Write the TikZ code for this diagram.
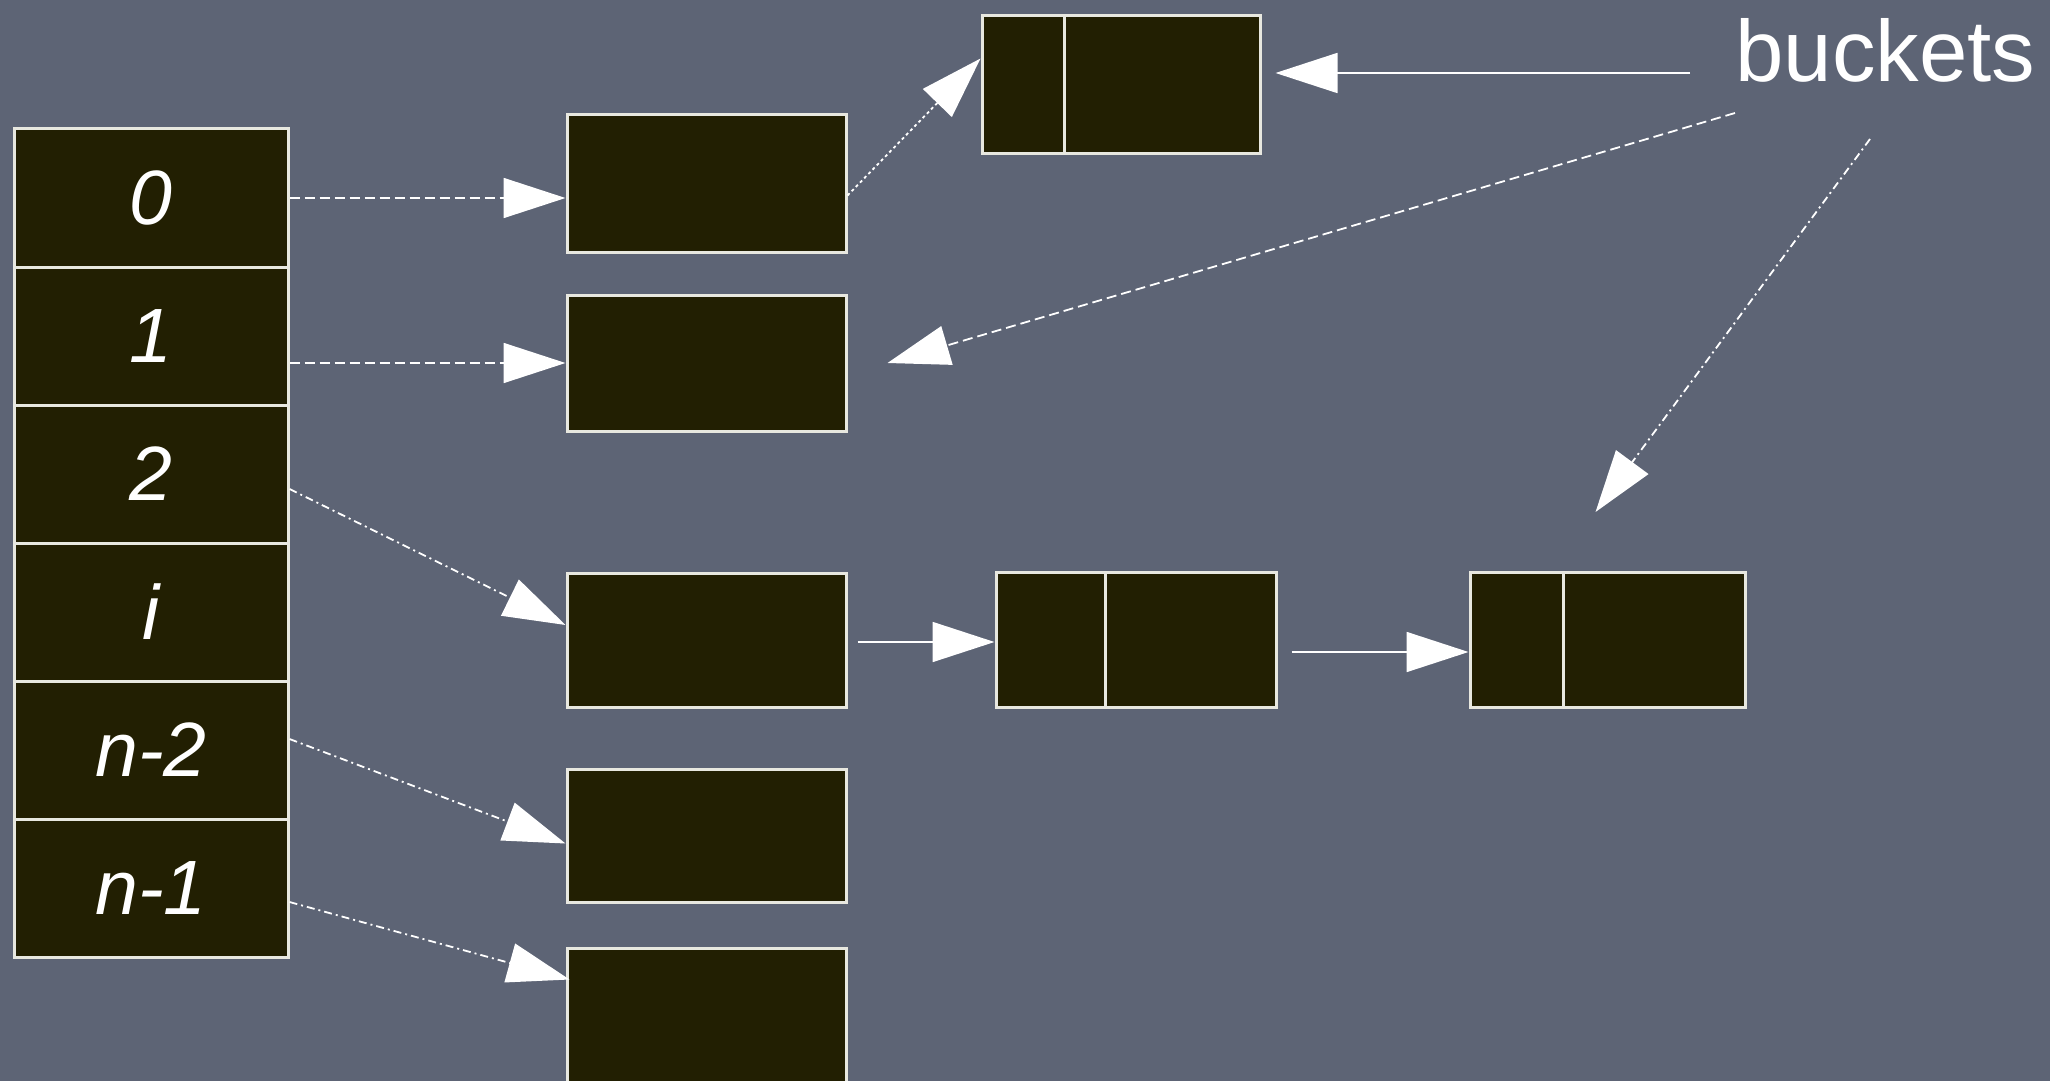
\documentclass[tikz,border=0pt]{standalone}
\usepackage{fontspec}
\setmainfont{Liberation Sans}
\usetikzlibrary{arrows.meta,calc}
\definecolor{slate}{RGB}{93,100,117}
\definecolor{boxfill}{RGB}{34,31,2}
\definecolor{boxline}{RGB}{232,232,224}
\tikzset{
  cell/.style={draw=boxline,fill=boxfill,line width=1.5pt,minimum width=137pt,minimum height=69pt,inner sep=0pt,text=white,font=\fontsize{38.5pt}{40pt}\selectfont\itshape},
  sbox/.style={draw=boxline,fill=boxfill,line width=1.5pt,minimum width=139.5pt,inner sep=0pt},
  bbox/.style={draw=boxline,fill=boxfill,line width=1.5pt,minimum height=67.5pt,inner sep=0pt},
  divider/.style={draw=boxline,line width=1.5pt},
  conn/.style={draw=white,line width=0.9pt,-{Triangle[length=31pt,width=20pt]}},
  dashA/.style={dash pattern=on 5pt off 2.5pt},
  dashB/.style={dash pattern=on 4pt off 2pt on 1pt off 2pt},
  dotC/.style={dash pattern=on 1.5pt off 1.5pt},
}
\begin{document}
\begin{tikzpicture}[x=0.5pt,y=-0.5pt]
\useasboundingbox (0,0) rectangle (2050,1081);
\clip (0,0) rectangle (2050,1081);
\fill[slate] (0,0) rectangle (2050,1081);
% array
\node[cell] (c0) at (151,198) {0};
\node[cell] (c1) at (151,336) {1};
\node[cell] (c2) at (151,474) {2};
\node[cell] (c3) at (151,612) {i};
\node[cell] (c4) at (151,750) {n-2};
\node[cell] (c5) at (151,888) {n-1};
% column of boxes
\node[sbox,minimum height=68.5pt] (A) at (706.5,183.5) {};
\node[sbox,minimum height=68pt] (B) at (706.5,363) {};
\node[sbox,minimum height=67pt] (C) at (706.5,640) {};
\node[sbox,minimum height=66.5pt] (D) at (706.5,835.5) {};
\node[sbox,minimum height=71pt] (E) at (706.5,1019) {};
% bucket boxes
\node[bbox,minimum width=139pt,minimum height=68.5pt] (T) at (1121,84.5) {};
\draw[divider] ([xshift=42pt]T.north west) -- ([xshift=42pt]T.south west);
\node[bbox,minimum width=140pt] (M) at (1136,640) {};
\draw[divider] ([xshift=55.5pt]M.north west) -- ([xshift=55.5pt]M.south west);
\node[bbox,minimum width=137.5pt] (R) at (1607.5,640) {};
\draw[divider] ([xshift=47.5pt]R.north west) -- ([xshift=47.5pt]R.south west);
% label
\node[anchor=base west,inner sep=0pt,text=white,font=\fontsize{43.5pt}{45pt}\selectfont] (L) at (1735,82) {buckets};
\coordinate (s1) at (1690,73);
\coordinate (s2) at (1735,113);
\coordinate (s3) at (1870,139);
% connectors
\draw[conn,dashA] (c0.east) -- (c0.east -| A.west);
\draw[conn,dashA] (B.west -| c1.east) -- (B.west);
\draw[conn,dashB] ([yshift=-7.5pt]c2.east) -- ([yshift=7.5pt]C.west);
\draw[conn,dashB] ([yshift=5.5pt]c4.east) -- ([yshift=-4pt]D.west);
\draw[conn,dashB] ([yshift=-7pt]c5.east) -- ([xshift=2pt,yshift=-16.5pt]E.north west);
\draw[conn,dotC] ([yshift=-6pt]A.east) -- ([yshift=13pt]T.west);
\draw[conn] ([xshift=5pt,yshift=-1pt]C.east) -- ([yshift=-1pt]M.west);
\draw[conn] ([xshift=7pt,yshift=-6pt]M.east) -- ([yshift=-6pt]R.west);
\draw[conn] (s1) -- ([xshift=7pt,yshift=5.75pt]T.east);
\draw[conn,dashA] (s2) -- ([xshift=20pt]B.east);
\draw[conn,dashB] (s3) -- ([xshift=-6pt,yshift=29.5pt]R.north);
\end{tikzpicture}
\end{document}
